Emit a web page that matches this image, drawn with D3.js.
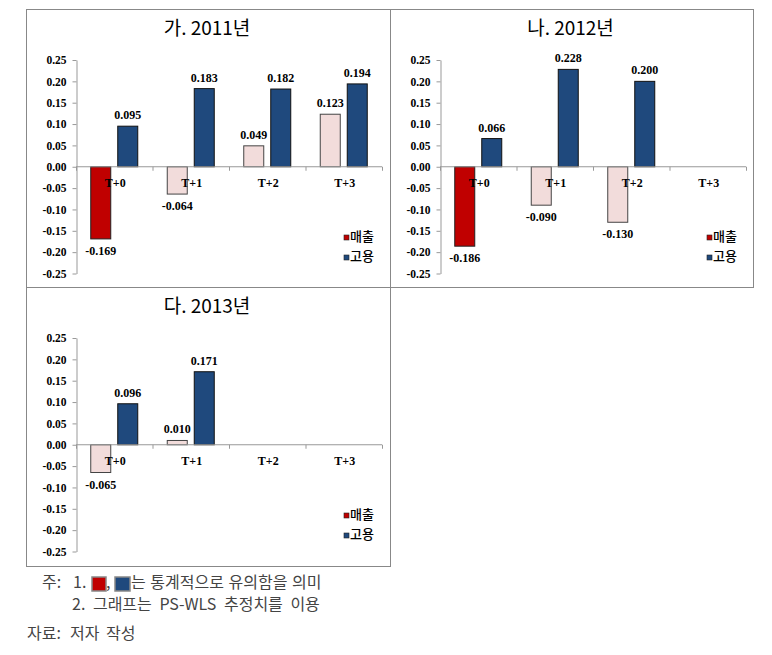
<!DOCTYPE html>
<html><head><meta charset="utf-8">
<script src="https://cdn.jsdelivr.net/npm/d3@7"></script>
<style>body{margin:0;background:#fff;}svg{display:block;}</style>
</head><body>
<svg id="c" width="772" height="655"></svg>
<script>
const categories = ["T+0","T+1","T+2","T+3"];
const yTicks = [0.25,0.20,0.15,0.10,0.05,0.00,-0.05,-0.10,-0.15,-0.20,-0.25];
const panelTitles = ["가. 2011년","나. 2012년","다. 2013년"];
const seriesNames = ["매출","고용"];
const sales2011 = [-0.169,-0.064,0.049,0.123];
const emp2011   = [0.095,0.183,0.182,0.194];
const salesSig2011 = [true,false,false,false];
const sales2012 = [-0.186,-0.090,-0.130,null];
const emp2012   = [0.066,0.228,0.200,null];
const salesSig2012 = [true,false,false,false];
const sales2013 = [-0.065,0.010,null,null];
const emp2013   = [0.096,0.171,null,null];
const salesSig2013 = [false,false,false,false];
const notes1 = "는 통계적으로 유의함을 의미";
const notes2 = "2. 그래프는 PS-WLS 추정치를 이용";
const sourceLabel = "자료:";
const sourceText = "저자 작성";

const RED="#C00000", BLUE="#1F497D", PINK="#F2DCDB";
const loc = d3.formatLocale({decimal:".",thousands:",",grouping:[3],currency:["",""],minus:"-"});
const f2 = loc.format(".2f"), f3 = loc.format(".3f");
const svg = d3.select("#c");
const panels = [
  {x:26,y:9,w:364,h:278,title:panelTitles[0],s:sales2011,e:emp2011,sig:salesSig2011},
  {x:390,y:9,w:363,h:278,title:panelTitles[1],s:sales2012,e:emp2012,sig:salesSig2012},
  {x:26,y:287,w:364,h:279,title:panelTitles[2],s:sales2013,e:emp2013,sig:salesSig2013}
];
const serif = "'Liberation Serif','Times New Roman',serif";
const kr = "'Noto Sans CJK KR','Noto Sans',sans-serif";

panels.forEach(p=>{
  const g = svg.append("g").attr("transform",`translate(${p.x},${p.y})`);
  g.append("rect").attr("x",0.5).attr("y",0.5).attr("width",p.w).attr("height",p.h)
    .attr("fill","none").attr("stroke","#888").attr("stroke-width",1);
  g.append("text").attr("x",p.w/2-1).attr("y",26).attr("text-anchor","middle")
    .attr("font-family",kr).attr("font-size",19).attr("fill","#000").text(p.title);
  const x0 = 50, x1 = 356;
  const y = d3.scaleLinear().domain([-0.25,0.25]).range([264.5,51]);
  const x = d3.scaleBand().domain(categories).range([x0,x1]).paddingInner(0).paddingOuter(0);
  // y axis
  const ya = g.append("g").attr("transform",`translate(${x0+0.5},0)`)
    .call(d3.axisLeft(y).tickValues(yTicks).tickFormat(f2).tickSize(4).tickSizeOuter(0));
  ya.attr("font-family",serif).attr("font-size",11);
  ya.select(".domain").attr("stroke","#999");
  ya.selectAll(".tick line").attr("stroke","#999");
  ya.selectAll("text").attr("font-family",serif).attr("font-weight","bold").attr("font-size",11.5).attr("fill","#000").attr("x",-10);
  // bars
  const bw = 20, gap = 7;
  const items=[];
  categories.forEach((c,i)=>{
    const cx = x(c)+x.bandwidth()/2;
    if(p.s[i]!=null) items.push({v:p.s[i],x:cx-gap/2-bw,fill:p.sig[i]?RED:PINK,stroke:p.sig[i]?"#222":"#444"});
    if(p.e[i]!=null) items.push({v:p.e[i],x:cx+gap/2,fill:BLUE,stroke:"#111"});
  });
  g.selectAll("rect.bar").data(items).enter().append("rect").attr("class","bar")
    .attr("x",d=>d.x).attr("width",bw)
    .attr("y",d=>Math.min(y(d.v),y(0))).attr("height",d=>Math.abs(y(d.v)-y(0)))
    .attr("fill",d=>d.fill).attr("stroke",d=>d.stroke).attr("stroke-width",1);
  // x axis at zero
  const xa = g.append("g").attr("transform",`translate(0,${y(0)})`);
  xa.append("line").attr("x1",x0).attr("x2",x1).attr("stroke","#999");
  d3.range(categories.length+1).forEach(i=>{
    const tx = x0 + i*x.bandwidth();
    xa.append("line").attr("x1",tx+0.5).attr("x2",tx+0.5).attr("y1",0).attr("y2",4).attr("stroke","#999");
  });
  categories.forEach(c=>{
    xa.append("text").attr("x",x(c)+x.bandwidth()/2+1).attr("y",20).attr("text-anchor","middle")
      .attr("font-family",serif).attr("font-weight","bold").attr("font-size",12).attr("fill","#000").text(c);
  });
  // value labels
  g.selectAll("text.val").data(items).enter().append("text").attr("class","val")
    .attr("x",d=>d.x+bw/2).attr("y",d=>d.v>=0?y(d.v)-7:y(d.v)+16)
    .attr("text-anchor","middle").attr("font-family",serif).attr("font-weight","bold").attr("font-size",12)
    .attr("fill","#000").text(d=>f3(d.v));
  // legend
  const lg = g.append("g").attr("transform",`translate(${p.w-46},231)`);
  [[RED,seriesNames[0]],[BLUE,seriesNames[1]]].forEach((l,i)=>{
    lg.append("rect").attr("x",0).attr("y",i*20-5).attr("width",5).attr("height",5).attr("fill",l[0]).attr("stroke","#222").attr("stroke-width",0.6);
    lg.append("text").attr("x",6).attr("y",i*20+1).attr("font-family",kr).attr("font-size",13).attr("font-weight","500").attr("fill","#000").text(l[1]);
  });
});

// notes
const nt = svg.append("g").attr("font-family",kr).attr("font-size",16).attr("fill","#444");
const l1 = nt.append("text").attr("y",588);
l1.append("tspan").attr("x",42).text("주:");
l1.append("tspan").attr("x",73).text("1.");
l1.append("tspan").attr("x",106).text(",");
l1.append("tspan").attr("x",131).attr("word-spacing",1).text(notes1);
svg.append("rect").attr("x",92).attr("y",577).attr("width",14).attr("height",14).attr("fill",RED).attr("stroke","#888").attr("stroke-width",1.5);
svg.append("rect").attr("x",115).attr("y",577).attr("width",15).attr("height",14).attr("fill",BLUE).attr("stroke","#888").attr("stroke-width",1.5);
nt.append("text").attr("x",72).attr("y",610).attr("word-spacing",4).text(notes2);
const l3 = nt.append("text").attr("y",639);
l3.append("tspan").attr("x",27).text(sourceLabel);
l3.append("tspan").attr("x",70).attr("word-spacing",3).text(sourceText);
</script>
</body></html>
